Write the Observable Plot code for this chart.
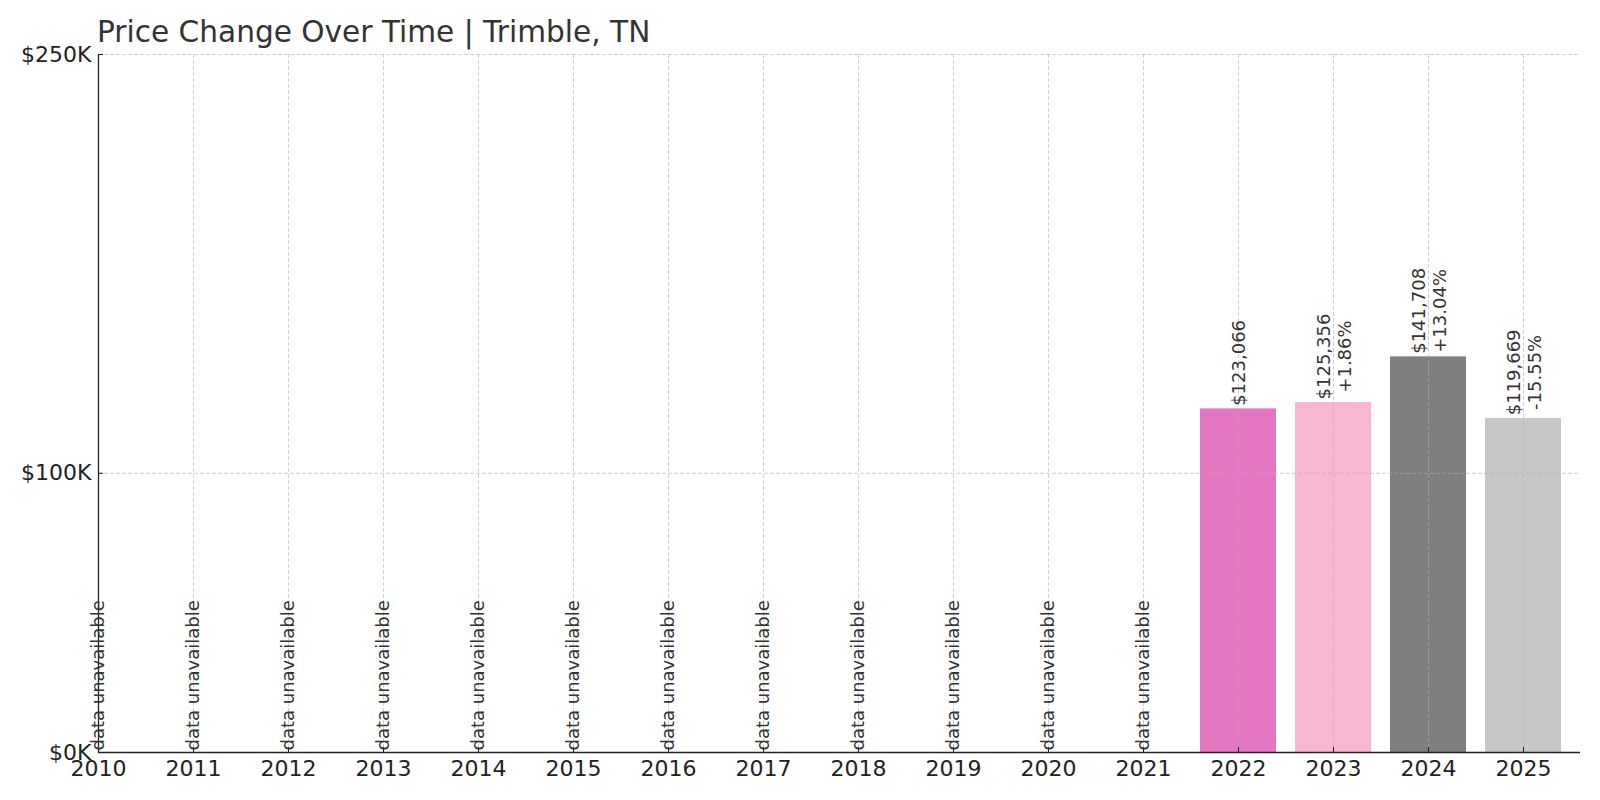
<!DOCTYPE html>
<html>
<head>
<meta charset="utf-8">
<script src="https://cdn.jsdelivr.net/npm/d3@7"></script>
<script src="https://cdn.jsdelivr.net/npm/@observablehq/plot@0.6"></script>
<style>
  body { margin: 0; background: #fff; }
  #wrap { position: relative; width: 1600px; height: 800px; }
  #title { position: absolute; left: 97px; top: 18px; font-family: "DejaVu Sans", sans-serif; font-size: 29.6px; line-height: 29px; color: #333; white-space: nowrap; z-index: 2; }
</style>
</head>
<body>
<div id="wrap"><div id="title">Price Change Over Time | Trimble, TN</div></div>
<script>
const years = [2010, 2011, 2012, 2013, 2014, 2015, 2016, 2017, 2018, 2019, 2020, 2021, 2022, 2023, 2024, 2025];
const values = [null, null, null, null, null, null, null, null, null, null, null, null, 123066, 125356, 141708, 119669];
const changes = [null, null, null, null, null, null, null, null, null, null, null, null, null, "+1.86%", "+13.04%", "-15.55%"];
const barColors = [null, null, null, null, null, null, null, null, null, null, null, null, "#e377c2", "#f7b6d2", "#7f7f7f", "#c7c7c7"];
const yTicks = [0, 100000, 250000];
const yTickLabels = ["$0K", "$100K", "$250K"];
const missingLabel = "data unavailable";

const rows = years.map((year, i) => ({year, value: values[i], change: changes[i], color: barColors[i]}));
const bars = rows.filter(d => d.value != null);
const missing = rows.filter(d => d.value == null);

const gridStyle = {stroke: "#b0b0b0", strokeOpacity: 0.65, strokeDasharray: "4,2", strokeWidth: 0.9};
const fmt = d3.format(",");

const chart = Plot.plot({
  width: 1600,
  height: 800,
  marginTop: 54,
  marginBottom: 48,
  marginLeft: 98,
  marginRight: 20,
  style: {fontFamily: "'DejaVu Sans', sans-serif", background: "white", overflow: "visible"},
  x: {domain: [2010, 2025.6], axis: null, label: null},
  y: {domain: [0, 250000], axis: null, label: null},
  color: {type: "identity"},
  marks: [
    Plot.rectY(bars, {x1: d => d.year - 0.4, x2: d => d.year + 0.4, y1: 0, y2: "value", fill: "color"}),
    Plot.gridX(years, gridStyle),
    Plot.gridY(yTicks, gridStyle),
    Plot.ruleX([2010], {stroke: "#222", strokeWidth: 1.3}),
    Plot.ruleY([0], {stroke: "#222", strokeWidth: 1.3}),
    Plot.axisX(years, {tickSize: 5, dy: -5, tickFormat: () => "", stroke: "#222", label: null}),
    Plot.axisX(years, {tickSize: 0, tickPadding: 8, tickFormat: d => String(d), fontSize: 22, fill: "#222", label: null}),
    Plot.axisY(yTicks, {tickSize: 5, dx: 5, tickFormat: () => "", stroke: "#222", label: null}),
    Plot.axisY(yTicks, {tickSize: 0, tickPadding: 7, tickFormat: d => yTickLabels[yTicks.indexOf(d)], fontSize: 22, fill: "#222", label: null}),
    Plot.text(missing, {x: "year", y: 0, text: () => missingLabel, rotate: -90, textAnchor: "start", lineAnchor: "middle", dy: -2, fontSize: 18, fill: "#333"}),
    Plot.text(bars, {
      x: "year", y: "value",
      text: d => "$" + fmt(d.value) + (d.change ? "\n" + d.change : ""),
      rotate: -90, textAnchor: "middle", lineAnchor: "middle", lineHeight: 1.2,
      dy: -46, fontSize: 18, fill: "#333"
    })
  ]
});
document.getElementById("wrap").prepend(chart);
</script>
</body>
</html>
